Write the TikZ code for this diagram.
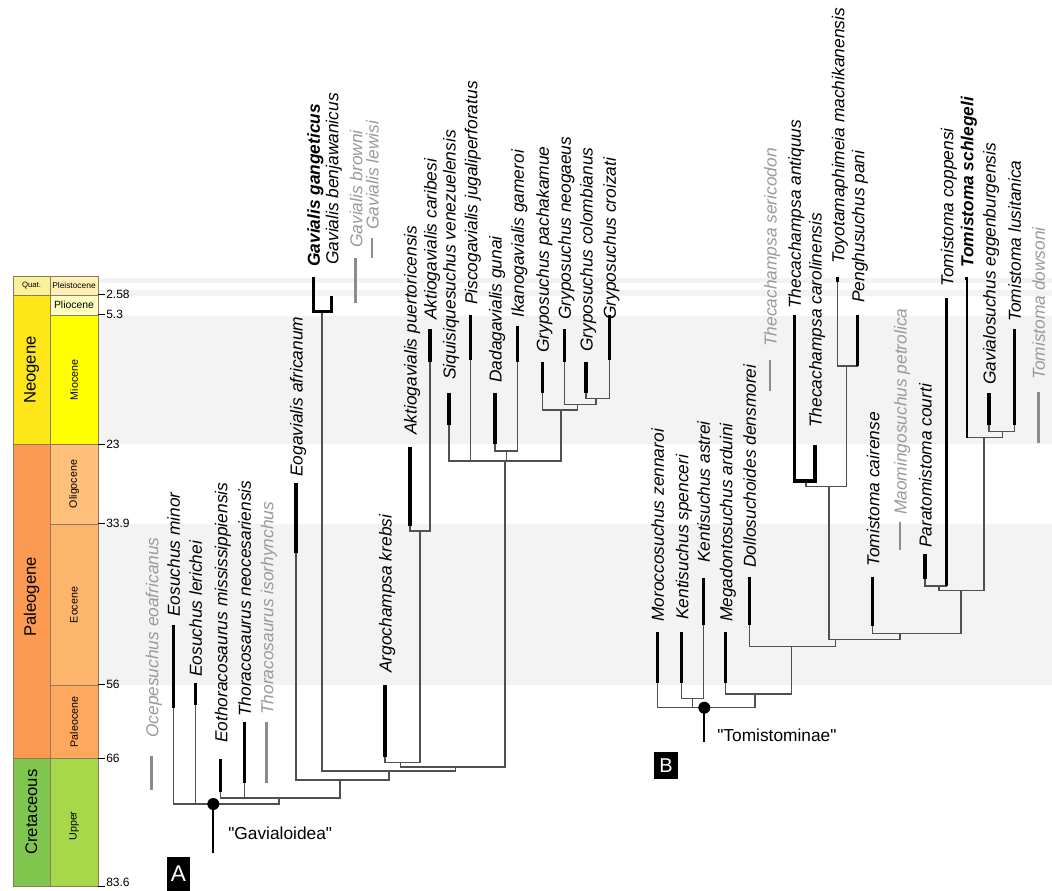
\documentclass[tikz,border=0pt]{standalone}
\usepackage{fontspec}
\setmainfont{Liberation Sans}
\newcommand{\strq}{\XeTeXglyph\XeTeXcharglyph"22\relax}
\definecolor{brc}{HTML}{505050}
\definecolor{ghostc}{HTML}{9A9A9A}
\definecolor{ghostb}{HTML}{8C8C8C}
\definecolor{bandc}{HTML}{F3F3F3}
\definecolor{tsl}{HTML}{8C7B5E}
\definecolor{cQuat}{HTML}{FBF19B}
\definecolor{cPleist}{HTML}{FFF1B5}
\definecolor{cPlio}{HTML}{FFFFBF}
\definecolor{cNeo}{HTML}{FFE619}
\definecolor{cMio}{HTML}{FFFF00}
\definecolor{cPaleo}{HTML}{FD9A52}
\definecolor{cOligo}{HTML}{FEC07A}
\definecolor{cEo}{HTML}{FDB46C}
\definecolor{cPaleoc}{HTML}{FDA75F}
\definecolor{cCret}{HTML}{7FC64E}
\definecolor{cUpper}{HTML}{A6D84A}
\tikzset{
  taxon/.style={rotate=90, anchor=west, inner sep=0pt, text height=10pt, text depth=0pt,
    font=\fontsize{13}{15}\selectfont\itshape},
  ghosttx/.style={taxon, text=ghostc},
  boldtx/.style={taxon, font=\fontsize{13}{15}\selectfont\bfseries\itshape},
  br/.style={draw=brc, line width=0.8pt},
  rg/.style={draw=black, line width=2.3pt},
  gb/.style={draw=ghostb, line width=2.1pt},
  tsbox/.style={draw=tsl, line width=0.6pt},
  eralab/.style={rotate=90, inner sep=0pt, font=\fontsize{12.5}{14}\selectfont},
  eplab/.style={rotate=90, inner sep=0pt, font=\fontsize{8}{9}\selectfont},
  ticklab/.style={anchor=west, inner sep=0pt, font=\fontsize{9}{10}\selectfont},
  rootdot/.style={circle, fill=black, minimum size=9pt, inner sep=0pt},
  stem/.style={draw=black, line width=1.6pt},
  panel/.style={fill=black, text=white, inner sep=0pt},
  cladelab/.style={anchor=west, inner sep=0pt, font=\fontsize{13}{15}\selectfont}
}
\begin{document}
\begin{tikzpicture}[x=0.75pt, y=-0.75pt]
\useasboundingbox (0,0) rectangle (1052,890);
\fill[white] (0,0) rectangle (1052,890);
% background bands
\fill[bandc] (98,277.7) rectangle (1052,282.7);
\fill[bandc] (98,290) rectangle (1052,295.7);
\fill[bandc] (98,315.5) rectangle (1052,444);
\fill[bandc] (98,524) rectangle (1052,685);
% timescale
\fill[cQuat] (13,276) rectangle (50,295);
\fill[cPleist] (50,276) rectangle (98,295);
\fill[cPlio] (50,295) rectangle (98,315);
\fill[cNeo] (13,295) rectangle (50,444);
\fill[cMio] (50,315) rectangle (98,444);
\fill[cPaleo] (13,444) rectangle (50,758);
\fill[cOligo] (50,444) rectangle (98,524);
\fill[cEo] (50,524) rectangle (98,685);
\fill[cPaleoc] (50,685) rectangle (98,758);
\fill[cCret] (13,758) rectangle (50,886);
\fill[cUpper] (50,758) rectangle (98,886);
\draw[tsbox] (13,276) rectangle (50,295);
\draw[tsbox] (50,276) rectangle (98,295);
\draw[tsbox] (50,295) rectangle (98,315);
\draw[tsbox] (13,295) rectangle (50,444);
\draw[tsbox] (50,315) rectangle (98,444);
\draw[tsbox] (13,444) rectangle (50,758);
\draw[tsbox] (50,444) rectangle (98,524);
\draw[tsbox] (50,524) rectangle (98,685);
\draw[tsbox] (50,685) rectangle (98,758);
\draw[tsbox] (13,758) rectangle (50,886);
\draw[tsbox] (50,758) rectangle (98,886);
\node[inner sep=0pt, font=\fontsize{5.8}{6}\selectfont] (tQuat) at (31.5,285.5) {Quat.};
\node[inner sep=0pt, font=\fontsize{6.3}{7}\selectfont] (tPleist) at (74,285.5) {Pleistocene};
\node[inner sep=0pt, font=\fontsize{7.8}{8}\selectfont] (tPlio) at (74,305) {Pliocene};
\node[eralab] (tNeo) at (31.5,370) {Neogene};
\node[eplab] (tMio) at (74,380) {Miocene};
\node[eralab] (tPaleo) at (31.5,597) {Paleogene};
\node[eplab] (tOligo) at (74,484) {Oligocene};
\node[eplab] (tEo) at (74,605) {Eocene};
\node[eplab] (tPaleoc) at (74,722) {Paleocene};
\node[eralab] (tCret) at (31.5,812) {Cretaceous};
\node[eplab] (tUpper) at (74,826) {Upper};
\foreach \yy/\ly/\lab [count=\i] in {294.8/294.8/2.58, 314.7/314.7/5.3, 444/444/23, 523.5/523.5/33.9, 684.8/684.8/56, 758/758/66, 886/882.5/83.6}{
  \draw[black, line width=0.6pt] (98,\yy) -- (105,\yy);
  \node[ticklab] (tick\i) at (106,\ly) {\lab};
}
% ===== Tree A labels =====
\node[ghosttx] (ocep) at (151.7,738) {Ocepesuchus eoafricanus};
\node[taxon] (emin) at (173.3,617) {Eosuchus minor};
\node[taxon] (eler) at (195.3,677) {Eosuchus lerichei};
\node[taxon] (eoth) at (220.7,743) {Eothoracosaurus mississippiensis};
\node[taxon] (tneo) at (244.3,717) {Thoracosaurus neocesariensis};
\node[ghosttx] (tiso) at (266.7,715) {Thoracosaurus isorhynchus};
\node[taxon] (eoga) at (296,477) {Eogavialis africanum};
\node[boldtx] (ggan) at (313.3,267) {Gavialis gangeticus};
\node[taxon] (gben) at (331.7,265) {Gavialis benjawanicus};
\node[ghosttx] (gbro) at (355.7,248) {Gavialis browni};
\node[ghosttx] (glew) at (372,230) {Gavialis lewisi};
\node[taxon] (argo) at (385,673) {Argochampsa krebsi};
\node[taxon] (apue) at (410,435) {Aktiogavialis puertoricensis};
\node[taxon] (acar) at (430,320) {Aktiogavialis caribesi};
\node[taxon] (siqu) at (449,380) {Siquisiquesuchus venezuelensis};
\node[taxon] (pisc) at (470.7,305) {Piscogavialis jugaliperforatus};
\node[taxon] (dada) at (495,383) {Dadagavialis gunai};
\node[taxon] (ikan) at (517.3,318) {Ikanogavialis gameroi};
\node[taxon] (gpac) at (542.3,353) {Gryposuchus pachakamue};
\node[taxon] (gneo) at (564.3,320) {Gryposuchus neogaeus};
\node[taxon] (gcol) at (586,352) {Gryposuchus colombianus};
\node[taxon] (gcro) at (609.3,320) {Gryposuchus croizati};
% ===== Tree A lines =====
\draw[gb] (151.7,756) -- (151.7,790);
\draw[gb] (266.7,722) -- (266.7,783);
\draw[gb] (355.7,258) -- (355.7,303);
\draw[gb] (372,238) -- (372,258);
\draw[br] (173.3,708) -- (173.3,804) -- (279,804) -- (279,798);
\draw[br] (195.3,705) -- (195.3,804);
\draw[br] (220.7,792) -- (220.7,798) -- (340,798) -- (340,780);
\draw[br] (244.3,783) -- (244.3,798);
\draw[br] (296,553) -- (296,780) -- (389,780) -- (389,771);
\draw[br] (322,311.7) -- (322,771) -- (455.7,771) -- (455.7,767);
\draw[br] (400.7,762.7) -- (400.7,767) -- (505,767) -- (505,461);
\draw[br] (385,757) -- (385,762.7) -- (420,762.7) -- (420,531);
\draw[br] (410,526) -- (410,531) -- (430,531) -- (430,361.7);
\draw[br] (449,425) -- (449,461) -- (561,461) -- (561,410);
\draw[br] (470.7,360) -- (470.7,461);
\draw[br] (506.7,461) -- (506.7,451);
\draw[br] (495,444) -- (495,451) -- (517.3,451) -- (517.3,361.7);
\draw[br] (542.3,393) -- (542.3,410) -- (577.7,410) -- (577.7,404.3);
\draw[br] (564.3,361.7) -- (564.3,404.3) -- (596,404.3) -- (596,398.3);
\draw[br] (586,393) -- (586,398.3) -- (609.3,398.3) -- (609.3,360);
\draw[rg] (173.3,625) -- (173.3,708);
\draw[rg] (195.3,683) -- (195.3,705);
\draw[rg] (220.7,759) -- (220.7,792);
\draw[rg] (244.3,722) -- (244.3,783);
\draw[rg] (296,483) -- (296,553);
\draw[rg, line join=miter] (313.3,276.7) -- (313.3,311.7) -- (331.7,311.7) -- (331.7,296);
\draw[rg] (385,685) -- (385,757);
\draw[rg] (410,446.7) -- (410,526);
\draw[rg] (430,329) -- (430,361.7);
\draw[rg] (449,393) -- (449,425);
\draw[rg] (470.7,315) -- (470.7,360);
\draw[rg] (495,393) -- (495,444);
\draw[rg] (517.3,326) -- (517.3,361.7);
\draw[rg] (542.3,361.7) -- (542.3,393);
\draw[rg] (564.3,329) -- (564.3,361.7);
\draw[rg] (586,361.7) -- (586,393);
\draw[rg] (609.3,315) -- (609.3,360);
\node[rootdot] (rootA) at (213.3,804) {};
\coordinate (stemA) at (213.3,853);
\draw[stem] (rootA.center) -- (stemA);
\node[cladelab] (gavlab) at (228,833) {\strq Gavialoidea\strq};
\node[panel, minimum width=17.5pt, minimum height=26pt, font=\fontsize{17}{17}\selectfont] (panA) at (178.5,874) {A};
% ===== Tree B labels =====
\node[taxon] (moro) at (657.3,622) {Moroccosuchus zennaroi};
\node[taxon] (kspe) at (681.7,620) {Kentisuchus spenceri};
\node[taxon] (kast) at (703.3,563) {Kentisuchus astrei};
\node[taxon] (mega) at (725.7,622) {Megadontosuchus arduini};
\node[taxon] (doll) at (749.3,568) {Dollosuchoides densmorei};
\node[ghosttx] (tser) at (770,347) {Thecachampsa sericodon};
\node[taxon] (tant) at (794.3,309) {Thecachampsa antiquus};
\node[taxon] (tcar) at (815,428) {Thecachampsa carolinensis};
\node[taxon] (toyo) at (837.7,264) {Toyotamaphimeia machikanensis};
\node[taxon] (peng) at (857.7,303) {Penghusuchus pani};
\node[taxon] (tcai) at (872.7,567) {Tomistoma cairense};
\node[ghosttx] (maom) at (900,515) {Maomingosuchus petrolica};
\node[taxon] (para) at (925,548) {Paratomistoma courti};
\node[taxon] (tcop) at (946.7,287) {Tomistoma coppensi};
\node[boldtx] (tsch) at (966.7,268) {Tomistoma schlegeli};
\node[taxon] (gegg) at (989,385) {Gavialosuchus eggenburgensis};
\node[taxon] (tlus) at (1014.3,322) {Tomistoma lusitanica};
\node[ghosttx] (tdow) at (1038.3,380) {Tomistoma dowsoni};
% ===== Tree B lines =====
\draw[gb] (770,360) -- (770,390.7);
\draw[gb] (900,521.7) -- (900,550);
\draw[gb] (1038.3,391.7) -- (1038.3,442.7);
\draw[br] (657.3,683.3) -- (657.3,707.7) -- (755,707.7) -- (755,694);
\draw[br] (681.7,683.3) -- (681.7,698.3) -- (703.3,698.3) -- (703.3,625);
\draw[br] (692.7,698.3) -- (692.7,707.7);
\draw[br] (725.7,683.3) -- (725.7,694) -- (791.7,694) -- (791.7,646.7);
\draw[br] (749.3,625) -- (749.3,646.7) -- (835.7,646.7) -- (835.7,639.3);
\draw[br] (829,486.7) -- (829,639.3) -- (900,639.3) -- (900,633.3);
\draw[br] (806,481) -- (806,486.7) -- (846.7,486.7) -- (846.7,366);
\draw[br] (837.7,282) -- (837.7,366) -- (857.7,366);
\draw[br] (872.7,625.7) -- (872.7,633.3) -- (961,633.3) -- (961,590.7);
\draw[br] (939,590.7) -- (984,590.7) -- (984,437.7);
\draw[br] (939,590.7) -- (939,586);
\draw[br] (925,579) -- (925,586) -- (946.7,586);
\draw[br] (966.7,437.7) -- (1002.3,437.7) -- (1002.3,431.7);
\draw[br] (989,425) -- (989,431.7) -- (1014.3,431.7) -- (1014.3,425);
\draw[draw=black, line width=1.3pt] (966.7,279) -- (966.7,437.7);
\draw[rg] (966.7,276.7) -- (966.7,280);
\draw[rg] (657.3,631.7) -- (657.3,683.3);
\draw[rg] (681.7,631.7) -- (681.7,683.3);
\draw[rg] (703.3,578.3) -- (703.3,625);
\draw[rg] (725.7,631.7) -- (725.7,683.3);
\draw[rg] (749.3,577.3) -- (749.3,625);
\draw[rg, line join=miter] (794.3,315) -- (794.3,481) -- (815,481) -- (815,445);
\draw[rg] (837.7,276.7) -- (837.7,282);
\draw[rg] (857.7,315) -- (857.7,366);
\draw[rg] (872.7,577.3) -- (872.7,625.7);
\draw[rg] (925,554) -- (925,579);
\draw[rg] (946.7,298.3) -- (946.7,586);
\draw[rg] (989,393.3) -- (989,425);
\draw[rg] (1014.3,329.3) -- (1014.3,425);
\node[rootdot] (rootB) at (704.3,707.7) {};
\coordinate (stemB) at (704.3,741.7);
\draw[stem] (rootB.center) -- (stemB);
\node[cladelab] (tomlab) at (717,735) {\strq Tomistominae\strq};
\node[panel, minimum width=18pt, minimum height=20.5pt, font=\fontsize{15}{15}\selectfont] (panB) at (666,765.5) {B};
\end{tikzpicture}
\end{document}
